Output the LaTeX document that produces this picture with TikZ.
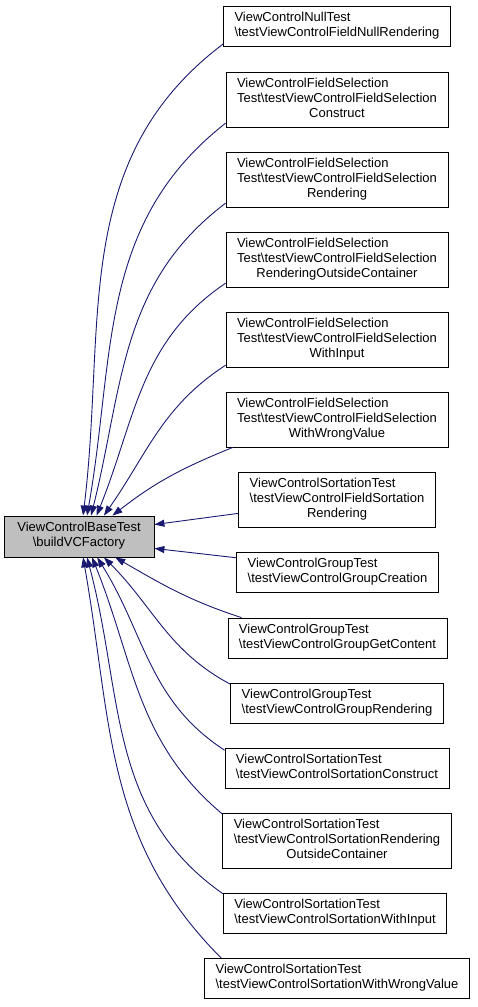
\documentclass[tikz,border=0pt]{standalone}
\usepackage{fontspec}
\setmainfont{Liberation Sans}
\usetikzlibrary{arrows.meta}

\definecolor{edgeblue}{HTML}{191970}
\definecolor{basegray}{HTML}{BFBFBF}

% label lines: first ones left, last one centred
\newcommand{\bs}{\textbackslash}
\newcommand{\labelii}[2]{\begin{tabular}{@{}l@{}}#1\\\multicolumn{1}{@{}c@{}}{#2}\end{tabular}}
\newcommand{\labeliii}[3]{\begin{tabular}{@{}l@{}}#1\\#2\\\multicolumn{1}{@{}c@{}}{#3}\end{tabular}}

\begin{document}
\begin{tikzpicture}[x=1pt, y=1pt, >={Triangle[length=10pt, width=7pt]},
    font=\fontsize{13}{15}\selectfont,
    fn/.style={draw=black, line width=0.8pt, rectangle, inner xsep=11pt, inner ysep=5pt},
    callarrow/.style={<-, draw=edgeblue, fill=none, line width=0.9pt}]

    \useasboundingbox (0,0) rectangle (477,1007);

    %%% The called function
    \node (base) [fn, fill=basegray, minimum width=150pt, minimum height=41pt] at (79,470.5)
        {\labelii{ViewControlBaseTest}{\bs{}buildVCFactory}};

    %%% Callers, top to bottom
    \node (c1) [fn] at (337,981)
        {\labelii{ViewControlNullTest}{\bs{}testViewControlFieldNullRendering}};
    \node (c2) [fn] at (337,907.5)
        {\labeliii{ViewControlFieldSelection}{Test\bs{}testViewControlFieldSelection}{Construct}};
    \node (c3) [fn] at (337,827.5)
        {\labeliii{ViewControlFieldSelection}{Test\bs{}testViewControlFieldSelection}{Rendering}};
    \node (c4) [fn] at (337,747.5)
        {\labeliii{ViewControlFieldSelection}{Test\bs{}testViewControlFieldSelection}{RenderingOutsideContainer}};
    \node (c5) [fn] at (337,667.5)
        {\labeliii{ViewControlFieldSelection}{Test\bs{}testViewControlFieldSelection}{WithInput}};
    \node (c6) [fn] at (337,587.5)
        {\labeliii{ViewControlFieldSelection}{Test\bs{}testViewControlFieldSelection}{WithWrongValue}};
    \node (c7) [fn] at (337,507.5)
        {\labeliii{ViewControlSortationTest}{\bs{}testViewControlFieldSortation}{Rendering}};
    \node (c8) [fn] at (337.5,435)
        {\labelii{ViewControlGroupTest}{\bs{}testViewControlGroupCreation}};
    \node (c9) [fn] at (337.5,369)
        {\labelii{ViewControlGroupTest}{\bs{}testViewControlGroupGetContent}};
    \node (c10) [fn] at (337,304)
        {\labelii{ViewControlGroupTest}{\bs{}testViewControlGroupRendering}};
    \node (c11) [fn] at (337,239)
        {\labelii{ViewControlSortationTest}{\bs{}testViewControlSortationConstruct}};
    \node (c12) [fn] at (337,166.5)
        {\labeliii{ViewControlSortationTest}{\bs{}testViewControlSortationRendering}{OutsideContainer}};
    \node (c13) [fn] at (335,93.5)
        {\labelii{ViewControlSortationTest}{\bs{}testViewControlSortationWithInput}};
    \node (c14) [fn] at (337,28.5)
        {\labelii{ViewControlSortationTest}{\bs{}testViewControlSortationWithWrongValue}};

    %%% Call edges (arrow tips at the called function)
    \draw[callarrow] (base.79) to[out=83, in=217] (c1.189);
    \draw[callarrow] (base.69) to[out=80, in=218] (c2.192);
    \draw[callarrow] (base.60) to[out=76, in=217] (c3.192);
    \draw[callarrow] (base.50) to[out=68, in=214] (c4.192);
    \draw[callarrow] (base.40) to[out=55, in=213] (c5.193);
    \draw[callarrow] (base.32) to[out=38, in=202] (c6.195);
    \draw[callarrow] (base.9)  -- (c7.188);
    \draw[callarrow] (base.-9) -- (c8.172);
    \draw[callarrow] (base.-30) to[out=-30, in=162] (c9.168);
    \draw[callarrow] (base.-40) to[out=-45, in=152] (c10.170);
    \draw[callarrow] (base.-49) to[out=-58, in=147] (c11.171);
    \draw[callarrow] (base.-58) to[out=-68, in=140] (c12.167.5);
    \draw[callarrow] (base.-69) to[out=-75, in=145] (c13.170.5);
    \draw[callarrow] (base.-79) to[out=-80, in=135] (c14.170.4);

\end{tikzpicture}
\end{document}
